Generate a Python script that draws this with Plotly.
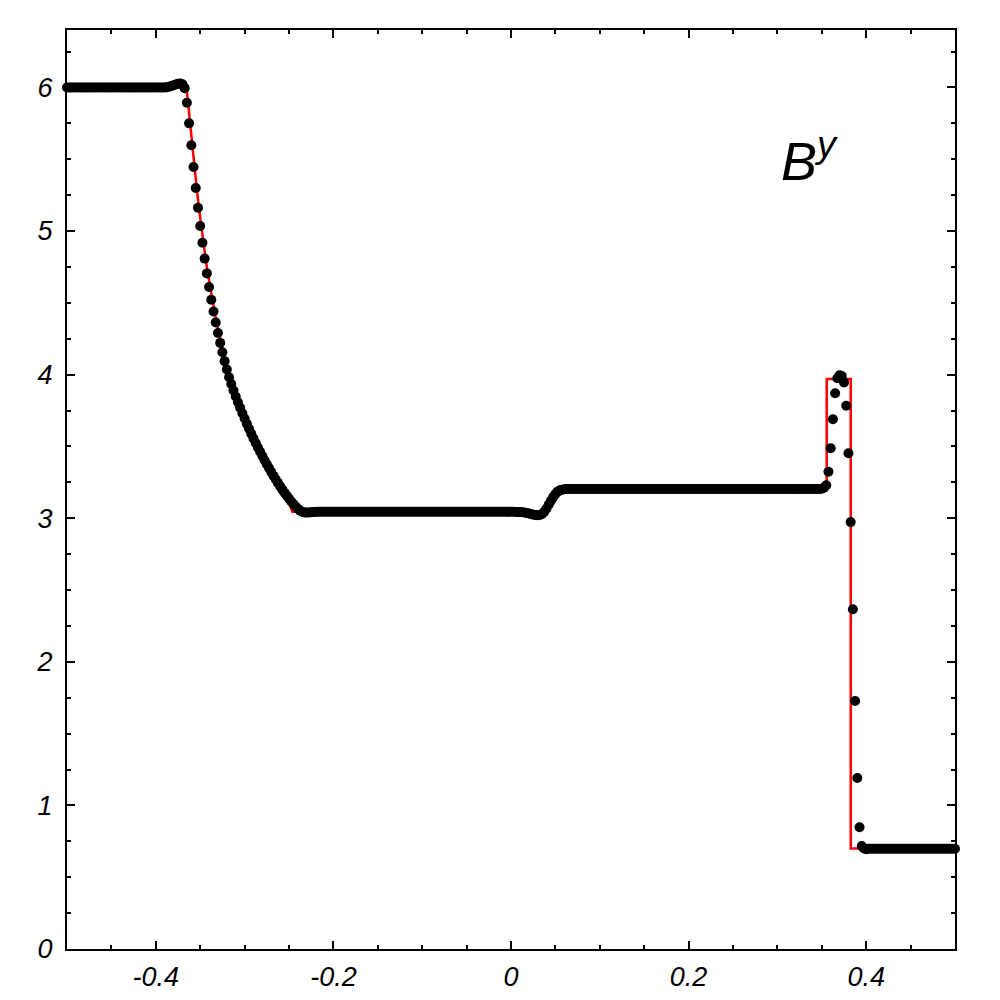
import plotly.graph_objects as go


# Numerical solution, one value per grid node (x = -0.5 ... 0.5, step 0.0025)
GRID_START = -0.5
GRID_STEP = 0.0025

by_numeric = [
    6.000, 6.000, 6.000, 6.000, 6.000, 6.000, 6.000, 6.000, 6.000, 6.000,
    6.000, 6.000, 6.000, 6.000, 6.000, 6.000, 6.000, 6.000, 6.000, 6.000,
    6.000, 6.000, 6.000, 6.000, 6.000, 6.000, 6.000, 6.000, 6.000, 6.000,
    6.000, 6.000, 6.000, 6.000, 6.000, 6.000, 6.000, 6.000, 6.000, 6.000,
    6.000, 6.000, 6.000, 6.000, 6.000, 6.002, 6.005, 6.010, 6.015, 6.020,
    6.025, 6.027, 6.022, 5.995, 5.893, 5.750, 5.597, 5.446, 5.300, 5.162,
    5.035, 4.918, 4.808, 4.705, 4.610, 4.522, 4.440, 4.363, 4.290, 4.221,
    4.156, 4.094, 4.036, 3.982, 3.935, 3.890, 3.848, 3.808, 3.769, 3.731,
    3.694, 3.658, 3.623, 3.589, 3.556, 3.524, 3.493, 3.463, 3.433, 3.404,
    3.376, 3.349, 3.322, 3.296, 3.271, 3.246, 3.222, 3.199, 3.177, 3.156,
    3.136, 3.117, 3.099, 3.082, 3.066, 3.053, 3.044, 3.040, 3.039, 3.040,
    3.041, 3.043, 3.044, 3.045, 3.045, 3.045, 3.045, 3.045, 3.045, 3.045,
    3.045, 3.045, 3.045, 3.045, 3.045, 3.045, 3.045, 3.045, 3.045, 3.045,
    3.045, 3.045, 3.045, 3.045, 3.045, 3.045, 3.045, 3.045, 3.045, 3.045,
    3.045, 3.045, 3.045, 3.045, 3.045, 3.045, 3.045, 3.045, 3.045, 3.045,
    3.045, 3.045, 3.045, 3.045, 3.045, 3.045, 3.045, 3.045, 3.045, 3.045,
    3.045, 3.045, 3.045, 3.045, 3.045, 3.045, 3.045, 3.045, 3.045, 3.045,
    3.045, 3.045, 3.045, 3.045, 3.045, 3.045, 3.045, 3.045, 3.045, 3.045,
    3.045, 3.045, 3.045, 3.045, 3.045, 3.045, 3.045, 3.045, 3.045, 3.045,
    3.045, 3.045, 3.045, 3.045, 3.045, 3.045, 3.045, 3.045, 3.045, 3.045,
    3.045, 3.045, 3.044, 3.044, 3.043, 3.042, 3.040, 3.037, 3.033, 3.029,
    3.025, 3.022, 3.021, 3.023, 3.030, 3.045, 3.068, 3.095, 3.122, 3.147,
    3.168, 3.184, 3.194, 3.199, 3.202, 3.203, 3.203, 3.203, 3.203, 3.203,
    3.203, 3.203, 3.203, 3.203, 3.203, 3.203, 3.203, 3.203, 3.203, 3.203,
    3.203, 3.203, 3.203, 3.203, 3.203, 3.203, 3.203, 3.203, 3.203, 3.203,
    3.203, 3.203, 3.203, 3.203, 3.203, 3.203, 3.203, 3.203, 3.203, 3.203,
    3.203, 3.203, 3.203, 3.203, 3.203, 3.203, 3.203, 3.203, 3.203, 3.203,
    3.203, 3.203, 3.203, 3.203, 3.203, 3.203, 3.203, 3.203, 3.203, 3.203,
    3.203, 3.203, 3.203, 3.203, 3.203, 3.203, 3.203, 3.203, 3.203, 3.203,
    3.203, 3.203, 3.203, 3.203, 3.203, 3.203, 3.203, 3.203, 3.203, 3.203,
    3.203, 3.203, 3.203, 3.203, 3.203, 3.203, 3.203, 3.203, 3.203, 3.203,
    3.203, 3.203, 3.203, 3.203, 3.203, 3.203, 3.203, 3.203, 3.203, 3.203,
    3.203, 3.203, 3.203, 3.203, 3.203, 3.203, 3.203, 3.203, 3.203, 3.203,
    3.203, 3.203, 3.203, 3.203, 3.203, 3.203, 3.203, 3.203, 3.203, 3.203,
    3.205, 3.212, 3.230, 3.324, 3.487, 3.689, 3.870, 3.975, 3.995, 3.990,
    3.946, 3.783, 3.452, 2.973, 2.366, 1.727, 1.191, 0.848, 0.717, 0.700,
    0.695, 0.698, 0.698, 0.698, 0.698, 0.698, 0.698, 0.698, 0.698, 0.698,
    0.698, 0.698, 0.698, 0.698, 0.698, 0.698, 0.698, 0.698, 0.698, 0.698,
    0.698, 0.698, 0.698, 0.698, 0.698, 0.698, 0.698, 0.698, 0.698, 0.698,
    0.698, 0.698, 0.698, 0.698, 0.698, 0.698, 0.698, 0.698, 0.698, 0.698,
    0.698,
]

# Exact (reference) solution
exact_x = [
    -0.5, -0.3655, -0.3635, -0.361, -0.3585, -0.356, -0.3535, -0.351,
    -0.3485, -0.346, -0.3435, -0.341, -0.3385, -0.336, -0.333, -0.33,
    -0.327, -0.324, -0.321, -0.318, -0.315, -0.31, -0.305, -0.30, -0.295,
    -0.29, -0.285, -0.28, -0.275, -0.27, -0.265, -0.26, -0.255, -0.25,
    -0.2475, -0.2462, 0.036, 0.0495, 0.3555, 0.3555, 0.3826, 0.3826, 0.5,
]
exact_y = [
    6.0, 6.0, 5.88, 5.72, 5.565, 5.415, 5.275, 5.14,
    5.015, 4.898, 4.79, 4.69, 4.597, 4.51, 4.41, 4.32,
    4.235, 4.155, 4.08, 4.01, 3.945, 3.848, 3.762, 3.683, 3.61,
    3.543, 3.48, 3.42, 3.363, 3.308, 3.255, 3.205, 3.155, 3.11,
    3.075, 3.045, 3.045, 3.203, 3.203, 3.97, 3.97, 0.70, 0.70,
]

x_tick_values = [-0.4, -0.2, 0, 0.2, 0.4]
x_tick_labels = ["-0.4", "-0.2", "0", "0.2", "0.4"]
y_tick_values = [0, 1, 2, 3, 4, 5, 6]
y_tick_labels = ["0", "1", "2", "3", "4", "5", "6"]

FONT = "Liberation Sans, Arial, sans-serif"


def axis_style(tick_values, tick_labels, value_range, minor_step, standoff):
    """
    Boxed axis with inward ticks on all four sides.
    """
    return dict(
        range=value_range,
        tickmode="array",
        tickvals=tick_values,
        ticktext=tick_labels,
        ticks="inside",
        ticklen=8,
        tickwidth=1.5,
        tickcolor="black",
        ticklabelstandoff=standoff,
        showline=True,
        linewidth=2,
        linecolor="black",
        mirror="ticks",
        showgrid=False,
        zeroline=False,
        tickfont=dict(family=FONT, size=27, color="black", style="italic"),
        minor=dict(
            tick0=0,
            dtick=minor_step,
            ticks="inside",
            ticklen=4,
            tickwidth=1.5,
            tickcolor="black",
            showgrid=False,
        ),
    )


def plot_by_profile():
    fig = go.Figure()

    fig.add_trace(go.Scatter(
        x=exact_x,
        y=exact_y,
        mode="lines",
        line=dict(color="red", width=2.5),
        showlegend=False,
        cliponaxis=False,
    ))

    fig.add_trace(go.Scatter(
        x0=GRID_START,
        dx=GRID_STEP,
        y=by_numeric,
        mode="markers",
        marker=dict(color="black", size=10),
        showlegend=False,
        cliponaxis=False,
    ))

    fig.add_annotation(
        x=0.3018,
        y=5.515,
        xref="x",
        yref="y",
        xanchor="left",
        yanchor="middle",
        text="B<sup>y</sup>",
        showarrow=False,
        font=dict(family=FONT, size=54, color="black", style="italic"),
    )

    # The page body adds an 8px offset, so margins are trimmed to match.
    fig.update_layout(
        width=1000,
        height=1000,
        plot_bgcolor="white",
        paper_bgcolor="white",
        margin=dict(l=59, r=53, t=22, b=59),
        xaxis=axis_style(x_tick_values, x_tick_labels, [-0.5, 0.5], 0.05, 3),
        yaxis=axis_style(y_tick_values, y_tick_labels, [0, 6.4], 0.25, 7),
    )

    return fig


fig = plot_by_profile()
fig.write_html("out.html")
